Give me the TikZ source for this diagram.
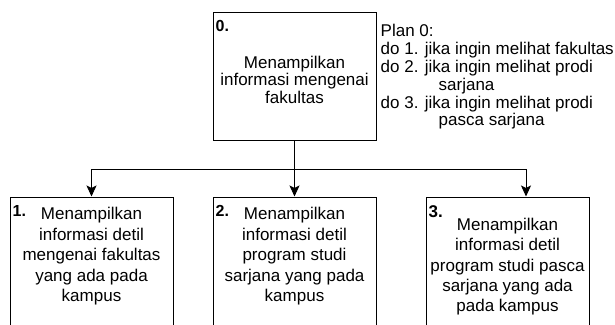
\documentclass[tikz,border=0pt]{standalone}
\usepackage{fontspec}
\setmainfont{Liberation Sans}
\usetikzlibrary{arrows.meta}

\tikzset{
  kotak/.style={draw, line width=1pt, minimum width=163pt, minimum height=#1, inner sep=0pt},
  nomor/.style={font=\fontsize{#1}{#1}\selectfont\bfseries, inner sep=0pt, anchor=base west},
  isi/.style={font=\fontsize{17}{#1}\selectfont, execute at begin node={\lineskiplimit=-100pt\relax}, align=center, inner sep=0pt, anchor=north},
  panah/.style={line width=1pt, -{Stealth[length=11pt,width=10pt,inset=2.5pt]}},
}

\begin{document}
\begin{tikzpicture}[x=1pt,y=-1pt]
  \clip (0,0) rectangle (615,324);
  % kotak
  \node[kotak=128pt] (t0) at (294.5,76) {};
  \node[kotak=135pt] (t1) at (91.5,264.5) {};
  \node[kotak=135pt] (t2) at (294.5,264.5) {};
  \node[kotak=135pt] (t3) at (507.5,264.5) {};

  % nomor
  \node[nomor=16] (n0) at ([shift={(3pt,-20pt)}]t0.north west) {0.};
  \node[nomor=16] (n1) at ([shift={(3pt,-20pt)}]t1.north west) {1.};
  \node[nomor=16] (n2) at ([shift={(3pt,-20pt)}]t2.north west) {2.};
  \node[nomor=17] (n3) at ([shift={(3pt,-21pt)}]t3.north west) {3.};

  % isi
  \node[isi=17.5] (i0) at ([yshift=-44pt]t0.north) {Menampilkan\\informasi mengenai\\fakultas};
  \node[isi=20.5] (i1) at ([yshift=-10.6pt]t1.north) {Menampilkan\\informasi detil\\mengenai fakultas\\yang ada pada\\kampus};
  \node[isi=20.5] (i2) at ([yshift=-10.6pt]t2.north) {Menampilkan\\informasi detil\\program studi\\sarjana yang pada\\kampus};
  \node[isi=20.3] (i3) at ([yshift=-21.6pt]t3.north) {Menampilkan\\informasi detil\\program studi pasca\\sarjana yang ada\\pada kampus};

  % plan
  \node[isi=17.8, align=left, anchor=north west] (rencana) at ([shift={(4pt,-12.8pt)}]t0.north east)
    {Plan 0:\\do 1. jika ingin melihat fakultas\\do 2. jika ingin melihat prodi\\\hspace*{58pt}sarjana\\do 3. jika ingin melihat prodi\\\hspace*{58pt}pasca sarjana};

  % panah
  \coordinate (cabang) at ([yshift=-29pt]t0.south);
  \draw[line width=1pt] (t0.south) -- (cabang);
  \draw[panah] (cabang) -| (t1.north);
  \draw[panah] (cabang) -- (t2.north);
  \draw[panah] (cabang) -| ([xshift=18.5pt]t3.north);
\end{tikzpicture}
\end{document}
